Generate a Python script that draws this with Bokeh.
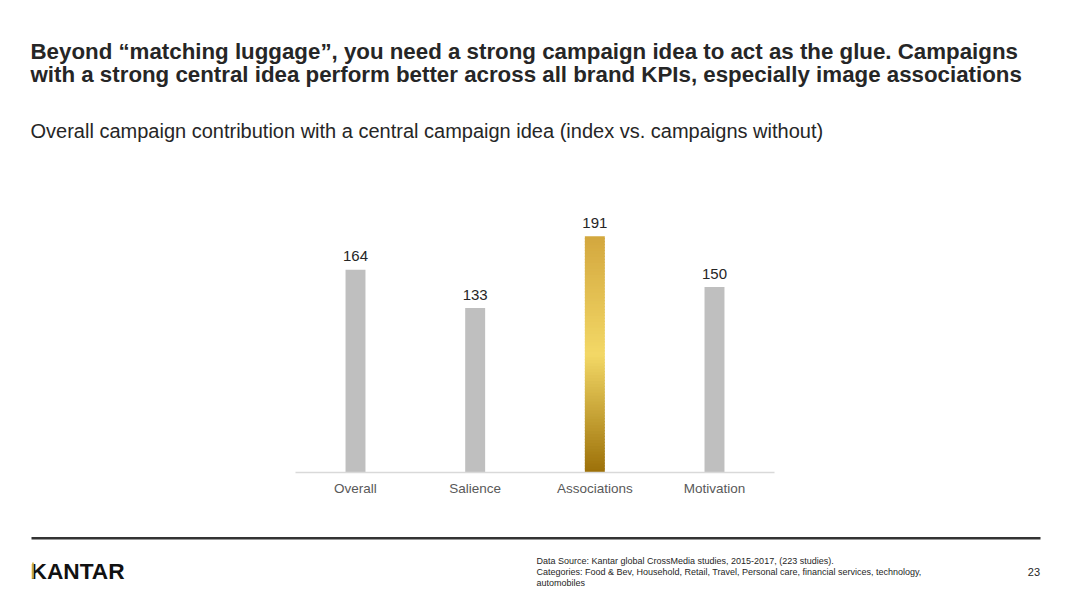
from bokeh.plotting import figure
from bokeh.layouts import column
from bokeh.models import ColumnDataSource, LabelSet, Range1d, FactorRange
from bokeh.core.properties import value
from bokeh.embed import file_html
from bokeh.resources import INLINE

# ---- data ----
categories = ["Overall", "Salience", "Associations", "Motivation"]
values = [164, 133, 191, 150]
highlight = "Associations"

title_lines = [
    "Beyond \u201cmatching luggage\u201d, you need a strong campaign idea to act as the glue. Campaigns",
    "with a strong central idea perform better across all brand KPIs, especially image associations",
]
subtitle = "Overall campaign contribution with a central campaign idea (index vs. campaigns without)"
footnote_lines = [
    "Data Source: Kantar global CrossMedia studies, 2015-2017, (223 studies).",
    "Categories: Food & Bev, Household, Retail, Travel, Personal care, financial services, technology,",
    "automobiles",
]
page_number = "23"
brand = "KANTAR"

# ---- style ----
FONT = "Liberation Sans"
GREY_BAR = "#bfbfbf"
GOLD_STOPS = [(0.0, (0x9c, 0x70, 0x08)), (0.5, (0xf3, 0xd8, 0x66)), (1.0, (0xd3, 0xa7, 0x3e))]
W = 1069
HEAD_H, CHART_H, FOOT_H = 190, 330, 80
BASE_Y = 472           # page row of the category axis
PX_PER_UNIT = 1.2365   # vertical scale of the bars
CAT_PAD = 2.4666       # absolute padding of the factor range (places the 4 slots)


def blank_fig(h):
    f = figure(width=W, height=h, x_range=Range1d(0, W), y_range=Range1d(h, 0),
               output_backend="svg", toolbar_location=None,
               x_axis_location=None, y_axis_location=None, min_border=0)
    f.outline_line_color = None
    f.grid.visible = False
    return f


def add_text(f, txt, x, y, size, bold=False, color="#262626", align="left"):
    f.text(x=[x], y=[y], text=[txt], text_font=value(FONT), text_font_size=size,
           text_font_style="bold" if bold else "normal", text_color=color,
           text_align=align, text_baseline="middle")


# ---- header ----
head = blank_fig(HEAD_H)
add_text(head, title_lines[0], 30, 50.8, "22.3px", bold=True)
add_text(head, title_lines[1], 30, 74.2, "22.3px", bold=True)
add_text(head, subtitle, 30, 130.0, "20px")

# ---- chart (frame spans the full width; padding places the category slots) ----
frame_h = BASE_Y - HEAD_H
p = figure(width=W, height=CHART_H,
           x_range=FactorRange(*categories, range_padding=CAT_PAD, range_padding_units="absolute"),
           y_range=Range1d(0, frame_h / PX_PER_UNIT),
           output_backend="svg", toolbar_location=None, y_axis_location=None,
           min_border_left=0, min_border_right=0, min_border_top=0,
           min_border_bottom=CHART_H - frame_h)
p.outline_line_color = None
p.grid.visible = False

grey_cats = [c for c in categories if c != highlight]
grey_vals = [v for c, v in zip(categories, values) if c != highlight]
p.vbar(x=grey_cats, top=grey_vals, width=1/6, fill_color=GREY_BAR, line_color=None)


def interp(t):
    for (t0, c0), (t1, c1) in zip(GOLD_STOPS[:-1], GOLD_STOPS[1:]):
        if t0 <= t <= t1:
            fr = (t - t0) / (t1 - t0)
            return "#%02x%02x%02x" % tuple(int(round(a + (b - a) * fr)) for a, b in zip(c0, c1))
    return "#%02x%02x%02x" % GOLD_STOPS[-1][1]


hv = values[categories.index(highlight)]
N = 80
bottoms = [hv * i / N for i in range(N)]
tops = [min(hv * (i + 1) / N + 1.0, hv) for i in range(N)]
cols = [interp((i + 0.5) / N) for i in range(N)]
p.vbar(x=[highlight] * N, bottom=bottoms, top=tops, width=1/6, fill_color=cols, line_color=None)

src = ColumnDataSource(dict(x=categories, y=values, t=[str(v) for v in values]))
p.add_layout(LabelSet(x="x", y="y", text="t", source=src, text_align="center",
                      text_baseline="alphabetic", y_offset=8.5, text_font=value(FONT),
                      text_font_size="15px", text_color="#262626"))

ax = p.xaxis[0]
ax.bounds = (0, len(categories))
ax.axis_line_color = "#d9d9d9"
ax.axis_line_width = 1.5
ax.major_tick_line_color = None
ax.minor_tick_line_color = None
ax.major_tick_out = 0
ax.major_label_text_font = FONT
ax.major_label_text_font_size = "13.5px"
ax.major_label_text_color = "#595959"
ax.major_label_standoff = 8

# ---- footer ----
OFF = HEAD_H + CHART_H
foot = blank_fig(FOOT_H)
foot.segment(x0=[31], y0=[537.7 - OFF], x1=[1040], y1=[537.7 - OFF], line_color="#333333", line_width=2.5)
add_text(foot, brand, 30, 570.2 - OFF, "22.7px", bold=True, color="#111111")
foot.quad(left=[31.6], right=[33.3], top=[562 - OFF], bottom=[578.3 - OFF],
          fill_color="#d8b448", line_color=None)
for i, line in enumerate(footnote_lines):
    add_text(foot, line, 536, 560 + 11 * i - OFF, "9px")
add_text(foot, page_number, 1039.5, 571.7 - OFF, "11px", align="right")

layout = column(head, p, foot, spacing=0)
open("out.html", "w").write(file_html(layout, INLINE))
